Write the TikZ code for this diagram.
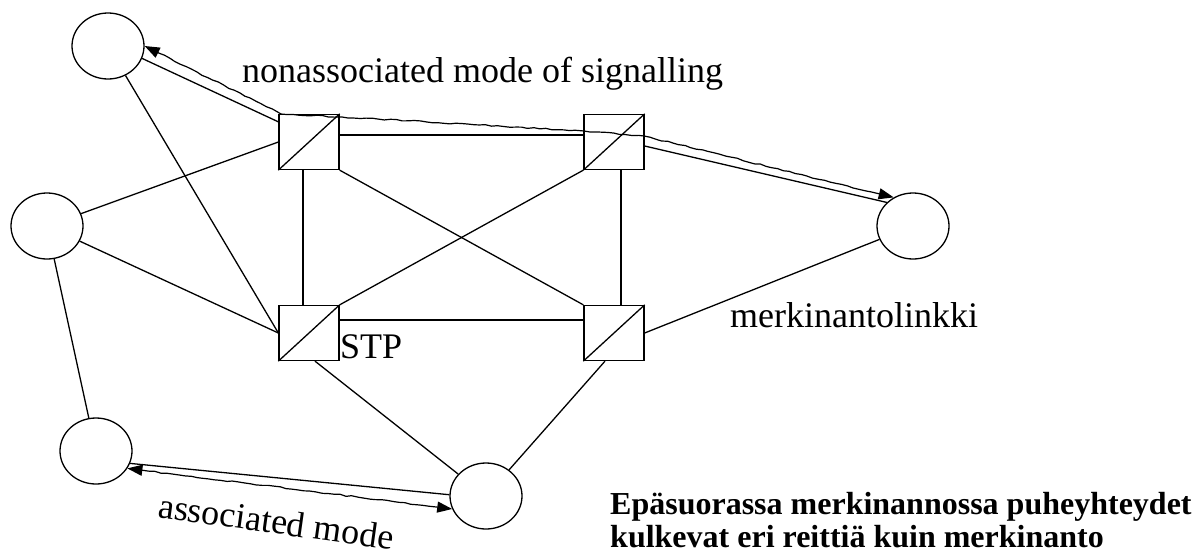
\documentclass[tikz,border=0pt]{standalone}
\usepackage{fontspec}
\setmainfont{Liberation Serif}
\usetikzlibrary{shapes.geometric,arrows.meta,decorations.pathmorphing}
\begin{document}
\begin{tikzpicture}[x=1pt,y=-1pt,
  station/.style={ellipse, draw, line width=1.3pt, minimum width=72pt, minimum height=66pt, inner sep=0pt},
  stpbox/.style={rectangle, draw, line width=1.3pt, minimum width=60pt, minimum height=55pt, inner sep=0pt},
  link/.style={line width=1.3pt},
  sigpath/.style={line width=1.2pt, line join=round,
     {Triangle[length=15pt,width=11pt]}-{Triangle[length=15pt,width=11pt]},
     decorate, decoration={random steps, segment length=6pt, amplitude=0.7pt, pre length=16pt, post length=16pt}},
  lbl/.style={font=\fontsize{36}{40}\selectfont, inner sep=0pt},
]
\useasboundingbox (0,0) rectangle (1201,557);

% signalling points
\node[station] (e1) at (108,46) {};
\node[station] (e2) at (47,226) {};
\node[station] (e3) at (96,451) {};
\node[station] (e4) at (486,496) {};
\node[station] (e5) at (913,226) {};

% signal transfer points
\node[stpbox] (s1) at (309,142) {};
\node[stpbox] (s2) at (614,142) {};
\node[stpbox] (s3) at (309,333) {};
\node[stpbox] (s4) at (614,333) {};
\foreach \s in {s1,s2,s3,s4}{
  \draw[link] (\s.south west) -- (\s.north east);
}

% links
\draw[link] (e1) -- (s3.west);
\draw[link] (e2) -- (s1.west);
\draw[link] (e2) -- (s3.west);
\draw[link] (e2) -- (e3);
\draw[link] ([yshift=7pt]s1.east) -- ([yshift=7pt]s2.west);
\draw[link] ([xshift=-6pt]s1.south) -- ([xshift=-6pt]s3.north);
\draw[link] ([xshift=7pt]s2.south) -- ([xshift=7pt]s4.north);
\draw[link] ([yshift=13pt]s3.east) -- ([yshift=13pt]s4.west);
\draw[link] (s1.south east) -- (s4.north west);
\draw[link] (s2.south west) -- (s3.north east);
\draw[link] (s4.east) -- (e5);
\draw[link] ([xshift=6pt]s3.south) -- (e4);
\draw[link] ([xshift=-9pt]s4.south) -- (e4);
\draw[link] ([yshift=-4pt]s2.east) -- (e5.138);
\draw[link] ([yshift=-8pt]s1.north west) -- (e1.-20);
\draw[link] (e3.-20) -- (e4.178);

% signalling paths
\coordinate (w1) at (281,114);
\coordinate (w2) at (342,117);
\coordinate (w3) at (584,131);
\coordinate (w4) at (644,136);
\draw[sigpath] (e1.0) -- (w1) -- (w2) -- (w3) -- (w4) -- (e5.124);
\draw[sigpath] (e3.-29) -- (e4.201);

% labels
\node[lbl, anchor=base west] (tnon) at (242,82) {nonassociated mode of signalling};
\node[lbl, anchor=base west] (tstp) at (340,358) {STP};
\node[lbl, anchor=base west] (tmerk) at (730,327) {merkinantolinkki};
\node[lbl, anchor=base west, rotate=-8] (tassoc) at (157,517) {associated mode};
\node[anchor=north west, align=left, inner sep=0pt, font=\bfseries\fontsize{32}{33}\selectfont] (tnote) at (610,492)
  {Epäsuorassa merkinannossa puheyhteydet\\kulkevat eri reittiä kuin merkinanto};
\end{tikzpicture}
\end{document}
